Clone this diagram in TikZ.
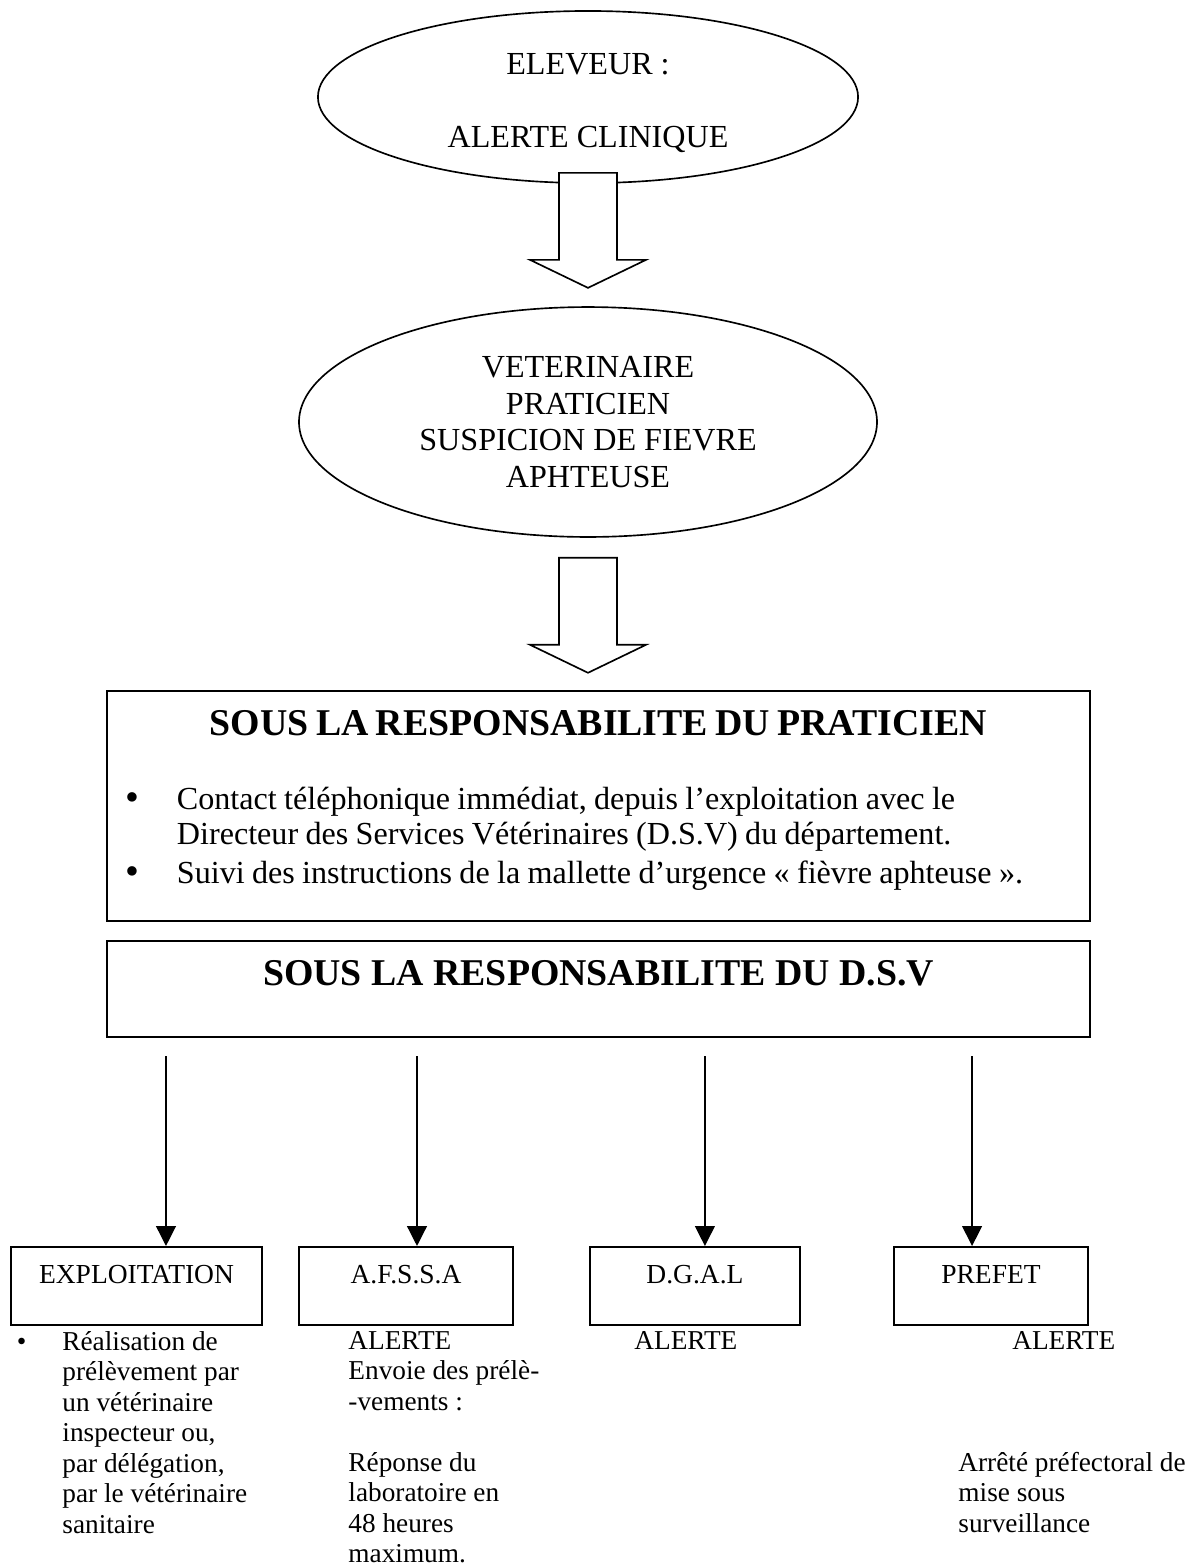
\documentclass[tikz,border=0pt]{standalone}
\usepackage{fontspec}
\setmainfont{Liberation Serif}
\usetikzlibrary{shapes,arrows.meta,positioning}
\tikzset{
bubble/.style={ellipse,draw=black,line width=0.75pt,align=center,inner sep=0pt,
  font=\fontsize{14.6}{16.7}\selectfont},
respbox/.style={rectangle,draw=black,line width=1pt,inner sep=0pt,
  minimum width=446.8pt},
orgbox/.style={rectangle,draw=black,line width=0.9pt,inner sep=0pt,align=center,
  text height=16.4pt,text depth=19.1pt,font=\fontsize{12.5}{13.9}\selectfont},
note/.style={anchor=north west,align=left,inner sep=0pt,
  font=\fontsize{12.4}{13.85}\selectfont},
downarr/.style={line width=0.6pt,shorten <=8.2pt,-{Triangle[length=9pt,width=9pt]}},
bigarrow/.pic={\draw[line width=0.75pt,fill=white,line join=miter]
  (-29,0) -- (-29,87) -- (-58,87) -- (0,115) -- (58,87) -- (29,87) -- (29,0) -- cycle;}
}
\newcommand{\resptitle}{\fontsize{17.2}{18}\selectfont\bfseries}
\newcommand{\respbullet}{\llap{\raisebox{-0.8pt}{\fontsize{18}{16}\selectfont\textbullet}\hspace{17pt}}}

\begin{document}
\begin{tikzpicture}[x=0.4545pt,y=-0.4545pt]
\useasboundingbox (0,0) rectangle (1188,1567);
\node[bubble,minimum width=245.5pt,minimum height=78.2pt] (eleveur) at (588,97)
  {\rule{0pt}{15pt}ELEVEUR~:\\[16.7pt]ALERTE CLINIQUE};
\node[bubble,minimum width=262.7pt,minimum height=104.5pt] (veto) at (588,422)
  {VETERINAIRE\\PRATICIEN\\SUSPICION DE FIEVRE\\APHTEUSE};
\node[respbox,minimum height=104.5pt,text width=446.8pt,align=left] (praticien) at (598.5,806) {%
  {\centering\resptitle SOUS LA RESPONSABILITE DU PRATICIEN\par}
  \vspace{17.2pt}
  {\leftskip=31.8pt\fontsize{14.6}{16}\selectfont
  \noindent\respbullet Contact téléphonique immédiat, depuis l’exploitation avec le\\
  Directeur des Services Vétérinaires (D.S.V) du département.\par
  \vspace{1.7pt}
  \noindent\respbullet Suivi des instructions de la mallette d’urgence «~fièvre aphteuse~».\par}
  \kern5pt};
\node[respbox,align=center,text height=20pt,text depth=23.6pt,font=\resptitle] (dsv) at (598.5,989)
  {SOUS LA RESPONSABILITE DU D.S.V};
\path (eleveur.south) ++(0,-11) pic {bigarrow};
\path (veto.south) ++(0,20) pic {bigarrow};
% destinataires
\node[orgbox,minimum width=114.1pt] (exploit) at (136.5,1286) {EXPLOITATION};
\node[orgbox,minimum width=97.3pt] (afssa) at (406,1286) {A.F.S.S.A};
\node[orgbox,minimum width=95.5pt] (dgal) at (695,1286) {D.G.A.L};
\node[orgbox,minimum width=88.2pt] (prefet) at (991,1286) {PREFET};
\draw[downarr] ([xshift=13.4pt]exploit.north |- dsv.south) -- ([xshift=13.4pt]exploit.north);
\draw[downarr] ([xshift=5pt]afssa.north |- dsv.south) -- ([xshift=5pt]afssa.north);
\draw[downarr] ([xshift=4.5pt]dgal.north |- dsv.south) -- ([xshift=4.5pt]dgal.north);
\draw[downarr] ([xshift=-8.6pt]prefet.north |- dsv.south) -- ([xshift=-8.6pt]prefet.north);
% textes sous les cases
\node[note] (exploitnote) at (62,1331) {\llap{\textbullet\hspace{16.4pt}}Réalisation de\\prélèvement par\\un vétérinaire\\inspecteur ou,\\par délégation,\\par le vétérinaire\\sanitaire};
\node[note] (afssanote) at (348,1331) {ALERTE\\Envoie des prélè-\\-vements~:\\[13.85pt]Réponse du\\laboratoire en\\48 heures\\maximum.};
\node[note] (dgalnote) at (634,1331) {ALERTE};
\node[note] (prefetnote) at (958,1331) {\hspace*{24.5pt}ALERTE\\[41.5pt]Arrêté préfectoral de\\mise sous\\surveillance};
\end{tikzpicture}
\end{document}
